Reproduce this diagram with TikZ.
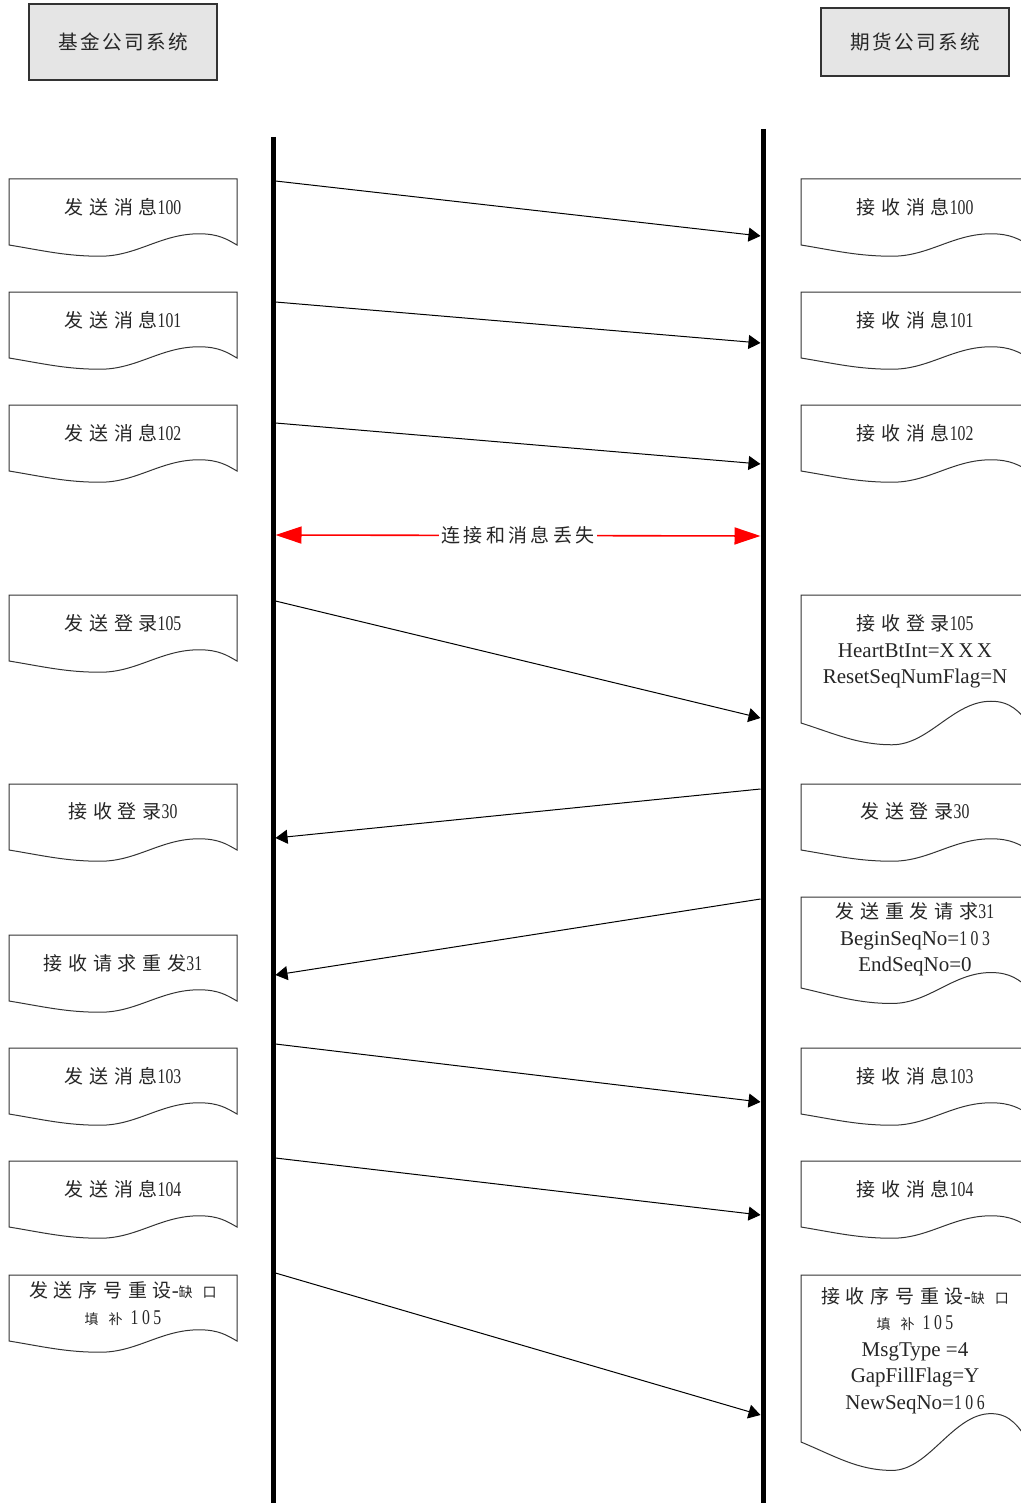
\documentclass[tikz,border=0pt]{standalone}
\usepackage{fontspec}
\setmainfont{Liberation Serif}
\newfontfamily\zhfont[LetterSpace=30]{Noto Sans CJK SC}
\newfontfamily\numfont[FakeStretch=0.75]{Liberation Serif}
\usetikzlibrary{arrows.meta}

\newcommand\zh[1]{{\zhfont\fontsize{9.5}{13.2}\selectfont #1}}
\newcommand\zhs[1]{{\zhfont\fontsize{7}{13.2}\selectfont #1}}
\newcommand\zhhead[1]{{\zhfont\addfontfeature{LetterSpace=12}\fontsize{9.8}{12}\selectfont #1}}
\newcommand\zhlost[1]{{\zhfont\addfontfeature{LetterSpace=18}\fontsize{9.5}{12}\selectfont #1}}
\newcommand\nr[1]{{\numfont #1}}

\tikzset{
	sysbox/.style={draw=black!80, fill=black!10, line width=0.6pt, minimum width=94pt, inner sep=0pt, text=black!85},
	lifeline/.style={line width=2.5pt},
	msg/.style={line width=0.5pt, -{Triangle[length=6pt,width=7pt]}},
	lost/.style={red, line width=0.8pt, {Triangle[length=13pt,width=8.5pt]}-{Triangle[length=13pt,width=8.5pt]}},
	doc/.style={draw=black!80, line width=0.5pt, fill=white},
	doctext/.style={align=center, inner sep=0pt, font=\fontsize{10.5}{13.2}\selectfont, text=black!85},
}

% document shape: name, left x, top y, side height, text y, text
\newcommand\msgdoc[6]{
	\pgfmathsetmacro\wa{0.17*#4}
	\draw[doc] (#2,#3+#4) -- (#2,#3) -- (#2+228,#3) -- (#2+228,#3+#4)
		.. controls (#2+218,#3+#4-0.5*\wa) and (#2+210,#3+#4-\wa) .. (#2+190,#3+#4-\wa)
		.. controls (#2+152,#3+#4-\wa) and (#2+128,#3+#4+\wa) .. (#2+91.2,#3+#4+\wa)
		.. controls (#2+57,#3+#4+\wa) and (#2+34.2,#3+#4+0.5*\wa) .. (#2,#3+#4) -- cycle;
	\node[doctext] (#1) at (#2+114,#5) {#6};
}

\begin{document}
\begin{tikzpicture}[x=0.5pt, y=-0.5pt]
	\useasboundingbox (0,0) rectangle (1021,1503);

	% the two systems
	\node[sysbox, minimum height=38pt] (fund) at (123,42) {\zhhead{基金公司系统}};
	\node[sysbox, minimum height=34pt] (fut) at (915,42) {\zhhead{期货公司系统}};

	\coordinate (fund top) at (273,137);
	\coordinate (fund end) at (273,1503);
	\coordinate (fut top) at (763,129);
	\coordinate (fut end) at (763,1503);
	\draw[lifeline] (fund top) -- (fund end);
	\draw[lifeline] (fut top) -- (fut end);

	% fund side
	\msgdoc{s100}{9}{179}{66}{207}{\zh{发送消息}\nr{100}}
	\msgdoc{s101}{9}{292}{66}{320}{\zh{发送消息}\nr{101}}
	\msgdoc{s102}{9}{405}{66}{433}{\zh{发送消息}\nr{102}}
	\msgdoc{slogon}{9}{595}{66}{623}{\zh{发送登录}\nr{105}}
	\msgdoc{rlogon}{9}{784}{66}{811}{\zh{接收登录}\nr{30}}
	\msgdoc{rresend}{9}{935}{66}{963}{\zh{接收请求重发}\nr{31}}
	\msgdoc{s103}{9}{1048}{66}{1076}{\zh{发送消息}\nr{103}}
	\msgdoc{s104}{9}{1161}{66}{1189}{\zh{发送消息}\nr{104}}
	\msgdoc{sreset}{9}{1275}{66}{1303.5}{\zh{发送序号重设}-\zhs{缺\hspace{5pt}口}\\\zhs{填\hspace{5pt}补}\hspace{4pt}\nr{1\,0\,5}}

	% futures side
	\msgdoc{r100}{801}{179}{66}{207}{\zh{接收消息}\nr{100}}
	\msgdoc{r101}{801}{292}{66}{320}{\zh{接收消息}\nr{101}}
	\msgdoc{r102}{801}{405}{66}{433}{\zh{接收消息}\nr{102}}
	\msgdoc{qlogon}{801}{595}{128}{651.5}{\zh{接收登录}\nr{105}\\HeartBtInt=X\,X\,X\\ResetSeqNumFlag=N}
	\msgdoc{alogon}{801}{784}{66}{811}{\zh{发送登录}\nr{30}}
	\msgdoc{aresend}{801}{897}{91}{939.5}{\zh{发送重发请求}\nr{31}\\BeginSeqNo=\nr{1\,0\,3}\\EndSeqNo=0}
	\msgdoc{r103}{801}{1048}{66}{1076}{\zh{接收消息}\nr{103}}
	\msgdoc{r104}{801}{1161}{66}{1189}{\zh{接收消息}\nr{104}}
	\msgdoc{rreset}{801}{1275}{167}{1350.5}{\zh{接收序号重设}-\zhs{缺\hspace{5pt}口}\\\zhs{填\hspace{5pt}补}\hspace{4pt}\nr{1\,0\,5}\\MsgType =4\\GapFillFlag=Y\\NewSeqNo=\nr{1\,0\,6}}

	% message ends on the lifelines
	\foreach \n/\yf/\yq in {1/181/236, 2/302/343, 3/423/464, lost/535/536, 4/601/718,
		5/838/789, 6/975/899, 7/1044/1102, 8/1158/1215, 9/1273/1415} {
		\coordinate (fund-\n) at (275.5,\yf);
		\coordinate (fut-\n) at (760.5,\yq);
	}

	\draw[msg] (fund-1) -- (fut-1);
	\draw[msg] (fund-2) -- (fut-2);
	\draw[msg] (fund-3) -- (fut-3);
	\draw[lost] (fund-lost) -- node[fill=white, inner sep=1pt, text=black!85] (losttext) {\zhlost{连接和消息丢失}} (fut-lost);
	\draw[msg] (fund-4) -- (fut-4);
	\draw[msg] (fut-5) -- (fund-5);
	\draw[msg] (fut-6) -- (fund-6);
	\draw[msg] (fund-7) -- (fut-7);
	\draw[msg] (fund-8) -- (fut-8);
	\draw[msg] (fund-9) -- (fut-9);
\end{tikzpicture}
\end{document}
